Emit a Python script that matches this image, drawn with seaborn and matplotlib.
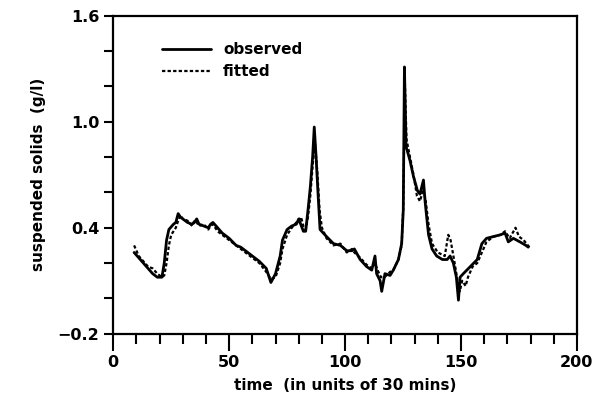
import numpy as np
import pandas as pd
import matplotlib
matplotlib.use('Agg')
import matplotlib.pyplot as plt
import seaborn as sns
from matplotlib.ticker import MultipleLocator

# observed suspended solids
obs_time = [9, 11, 13, 15, 17, 19, 21, 22, 23, 24, 26, 27, 28, 29, 30, 32, 34, 35, 36, 37,
            39, 41, 42, 43, 45, 47, 50, 53, 55, 57, 60, 63, 66, 68, 70, 72, 73, 75, 77, 79,
            80, 82, 83, 84, 85, 86, 86.7, 87.5, 88.3, 89.2, 92, 95, 98, 100.7, 103, 104, 106.5,
            109.3, 111.5, 112.9, 113.6, 115.1, 115.8, 117.2, 119.4, 120.8, 123, 124.4, 125.1,
            125.6, 126.3, 128, 129.5, 131.2, 132.3, 133.8, 134.5, 135.2, 136, 137.5, 139.5, 142,
            144, 145.3, 146.7, 148, 148.9, 149.6, 151, 154, 157, 159, 161, 164, 167, 169,
            170.4, 172.6, 175.4, 178, 179]
obs_vals = [0.26, 0.23, 0.20, 0.17, 0.14, 0.12, 0.12, 0.20, 0.33, 0.39, 0.42, 0.43, 0.48, 0.46,
            0.45, 0.43, 0.42, 0.43, 0.45, 0.42, 0.41, 0.40, 0.42, 0.43, 0.40, 0.37, 0.34, 0.30,
            0.29, 0.27, 0.24, 0.21, 0.17, 0.09, 0.14, 0.24, 0.33, 0.39, 0.41, 0.42, 0.45, 0.38,
            0.38, 0.50, 0.63, 0.80, 0.97, 0.80, 0.60, 0.39, 0.35, 0.31, 0.30, 0.27, 0.27, 0.28,
            0.22, 0.18, 0.16, 0.24, 0.14, 0.10, 0.04, 0.14, 0.13, 0.16, 0.22, 0.31, 0.50, 1.31,
            0.86, 0.78, 0.69, 0.61, 0.59, 0.67, 0.55, 0.46, 0.36, 0.28, 0.24, 0.22, 0.22, 0.24,
            0.20, 0.12, -0.01, 0.12, 0.14, 0.18, 0.22, 0.31, 0.34, 0.35, 0.36, 0.37, 0.32, 0.34,
            0.32, 0.30, 0.29]

# fitted values
fit_time = [9, 11, 13, 15, 17, 19, 21, 22, 23, 24, 25, 26, 27, 28, 29, 30, 32, 34, 35, 36, 37,
            39, 41, 42, 43, 45, 47, 50, 53, 55, 57, 60, 63, 66, 68, 70, 72, 73, 75, 77, 79,
            80, 81, 82, 83, 84, 85, 86, 87, 88, 89, 90, 92, 95, 98, 100.7, 103, 104, 106.5,
            109.3, 111.5, 112.9, 114, 115.5, 117, 119.4, 120.8, 123, 124.4, 125.1, 125.8,
            126.5, 128, 129.5, 131, 132.3, 133.8, 134.8, 136, 137.5, 140, 143, 144.5, 145.5,
            147, 148.5, 149.5, 150.5, 152, 153, 155, 157, 159, 161, 164, 167, 169, 171, 173.5,
            175, 177, 179.5]
fit_vals = [0.30, 0.24, 0.21, 0.18, 0.17, 0.14, 0.12, 0.13, 0.20, 0.30, 0.36, 0.38, 0.40, 0.44,
            0.47, 0.45, 0.44, 0.41, 0.44, 0.43, 0.41, 0.42, 0.39, 0.41, 0.42, 0.38, 0.36, 0.33,
            0.30, 0.28, 0.26, 0.23, 0.20, 0.15, 0.11, 0.12, 0.20, 0.28, 0.36, 0.40, 0.43, 0.44,
            0.46, 0.41, 0.39, 0.46, 0.58, 0.75, 0.88, 0.72, 0.50, 0.40, 0.34, 0.30, 0.31, 0.26,
            0.28, 0.26, 0.23, 0.19, 0.17, 0.20, 0.16, 0.12, 0.12, 0.15, 0.16, 0.22, 0.30, 0.52,
            1.22, 0.90, 0.80, 0.70, 0.58, 0.55, 0.62, 0.55, 0.42, 0.31, 0.26, 0.24, 0.36, 0.33,
            0.22, 0.10, 0.04, 0.10, 0.07, 0.12, 0.18, 0.20, 0.26, 0.32, 0.35, 0.36, 0.38, 0.34,
            0.40, 0.35, 0.33, 0.29]

obs = pd.DataFrame({'time': obs_time, 'solids': obs_vals})
fit = pd.DataFrame({'time': fit_time, 'solids': fit_vals})

sns.set_style('ticks')
plt.rcParams['font.family'] = ['DejaVu Sans']
plt.rcParams['font.weight'] = 'bold'
for key in ['text.color', 'axes.labelcolor', 'xtick.color', 'ytick.color', 'axes.edgecolor']:
    plt.rcParams[key] = 'black'

fig, ax = plt.subplots(figsize=(5.96, 4.08), dpi=100)
fig.subplots_adjust(left=0.19, right=0.968, top=0.9615, bottom=0.182)

sns.lineplot(data=obs, x='time', y='solids', ax=ax, color='black', lw=2.0,
             label='observed')
sns.lineplot(data=fit, x='time', y='solids', ax=ax, color='black', lw=1.6,
             label='fitted')
ax.lines[1].set_dashes([1.5, 1])

ax.set_xlim(0, 200)
ax.set_ylim(-0.2, 1.6)
ax.set_xticks([0, 50, 100, 150, 200])
ax.set_yticks([-0.2, 0.4, 1.0, 1.6])
ax.set_yticklabels(['\u22120.2', '0.4', '1.0', '1.6'])
ax.xaxis.set_minor_locator(MultipleLocator(10))
ax.yaxis.set_minor_locator(MultipleLocator(0.2))
ax.tick_params(axis='x', which='major', direction='out', length=12, width=1.5,
               labelsize=11.5, pad=3)
ax.tick_params(axis='x', which='minor', direction='out', length=7, width=1.5)
ax.tick_params(axis='y', which='both', direction='out', length=6.5, width=1.5,
               labelsize=11.5)
for lab in ax.get_xticklabels() + ax.get_yticklabels():
    lab.set_fontweight('bold')
for s in ax.spines.values():
    s.set_linewidth(1.6)

ax.set_xlabel('time  (in units of 30 mins)', fontsize=11, fontweight='bold', labelpad=6)
ax.set_ylabel('suspended solids  (g/l)', fontsize=11, fontweight='bold', labelpad=8)

leg = ax.legend(loc='upper left', bbox_to_anchor=(0.075, 0.96), frameon=False,
                handlelength=3.2, fontsize=11, labelspacing=0.45, handletextpad=0.8)
leg.get_lines()[1].set_dashes([1.5, 1])
for t in leg.get_texts():
    t.set_fontweight('bold')

fig.savefig('out.png', dpi=100)
